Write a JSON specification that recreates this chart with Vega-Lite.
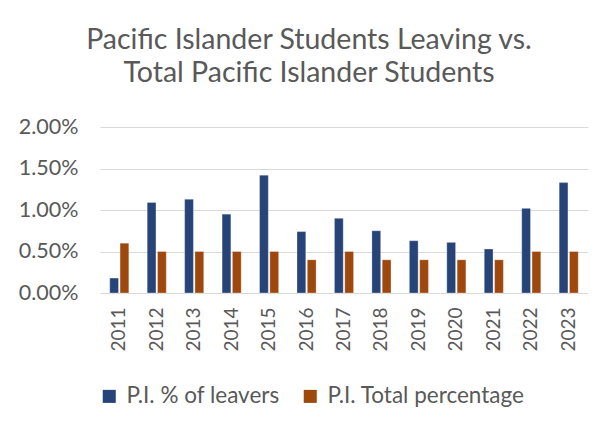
{
  "$schema": "https://vega.github.io/schema/vega-lite/v6.json",
  "width": 488,
  "height": 166,
  "autosize": "none",
  "padding": {"left": 100, "top": 127, "right": 26, "bottom": 142},
  "background": "white",
  "title": {
    "text": ["Pacific Islander Students Leaving vs.", "Total Pacific Islander Students"],
    "anchor": "middle",
    "dx": -35,
    "offset": 29,
    "fontSize": 28.5,
    "font": "Lato",
    "fontWeight": "normal",
    "color": "#595959",
    "lineHeight": 33
  },
  "data": {
    "values": [
      {"year": "2011", "series": "P.I. % of leavers", "value": 0.0018},
      {"year": "2012", "series": "P.I. % of leavers", "value": 0.0109},
      {"year": "2013", "series": "P.I. % of leavers", "value": 0.0113},
      {"year": "2014", "series": "P.I. % of leavers", "value": 0.0095},
      {"year": "2015", "series": "P.I. % of leavers", "value": 0.0142},
      {"year": "2016", "series": "P.I. % of leavers", "value": 0.0074},
      {"year": "2017", "series": "P.I. % of leavers", "value": 0.0090},
      {"year": "2018", "series": "P.I. % of leavers", "value": 0.0075},
      {"year": "2019", "series": "P.I. % of leavers", "value": 0.0063},
      {"year": "2020", "series": "P.I. % of leavers", "value": 0.0061},
      {"year": "2021", "series": "P.I. % of leavers", "value": 0.0053},
      {"year": "2022", "series": "P.I. % of leavers", "value": 0.0102},
      {"year": "2023", "series": "P.I. % of leavers", "value": 0.0133},
      {"year": "2011", "series": "P.I. Total percentage", "value": 0.006},
      {"year": "2012", "series": "P.I. Total percentage", "value": 0.005},
      {"year": "2013", "series": "P.I. Total percentage", "value": 0.005},
      {"year": "2014", "series": "P.I. Total percentage", "value": 0.005},
      {"year": "2015", "series": "P.I. Total percentage", "value": 0.005},
      {"year": "2016", "series": "P.I. Total percentage", "value": 0.004},
      {"year": "2017", "series": "P.I. Total percentage", "value": 0.005},
      {"year": "2018", "series": "P.I. Total percentage", "value": 0.004},
      {"year": "2019", "series": "P.I. Total percentage", "value": 0.004},
      {"year": "2020", "series": "P.I. Total percentage", "value": 0.004},
      {"year": "2021", "series": "P.I. Total percentage", "value": 0.004},
      {"year": "2022", "series": "P.I. Total percentage", "value": 0.005},
      {"year": "2023", "series": "P.I. Total percentage", "value": 0.005}
    ]
  },
  "mark": {"type": "bar", "stroke": "white", "strokeWidth": 0.5, "strokeOpacity": 0.6},
  "encoding": {
    "x": {
      "field": "year",
      "type": "nominal",
      "scale": {"paddingInner": 0.49, "paddingOuter": 0.26},
      "axis": {
        "title": null,
        "labelAngle": -90,
        "labelFont": "Lato",
        "labelFontSize": 19,
        "labelColor": "#595959",
        "labelPadding": 14,
        "domain": false,
        "ticks": false
      }
    },
    "xOffset": {"field": "series", "type": "nominal", "scale": {"paddingInner": 0.15}},
    "y": {
      "field": "value",
      "type": "quantitative",
      "scale": {"domain": [0, 0.02]},
      "axis": {
        "title": null,
        "format": ".2%",
        "values": [0, 0.005, 0.01, 0.015, 0.02],
        "labelFont": "Lato",
        "labelFontSize": 21.5,
        "labelColor": "#595959",
        "labelPadding": 22,
        "domain": false,
        "ticks": false,
        "gridColor": "#D9D9D9",
        "gridWidth": 1.2
      }
    },
    "color": {
      "field": "series",
      "type": "nominal",
      "scale": {"domain": ["P.I. % of leavers", "P.I. Total percentage"], "range": ["#264478", "#9E480E"]},
      "legend": {
        "title": null,
        "orient": "none",
        "direction": "horizontal",
        "legendX": -2,
        "legendY": 258,
        "symbolType": "square",
        "symbolSize": 170,
        "symbolStrokeWidth": 0,
        "labelFont": "Lato",
        "labelFontSize": 22.5,
        "labelColor": "#595959",
        "labelLimit": 400,
        "labelOffset": 6,
        "columnPadding": 19
      }
    }
  },
  "config": {"view": {"stroke": null}}
}
